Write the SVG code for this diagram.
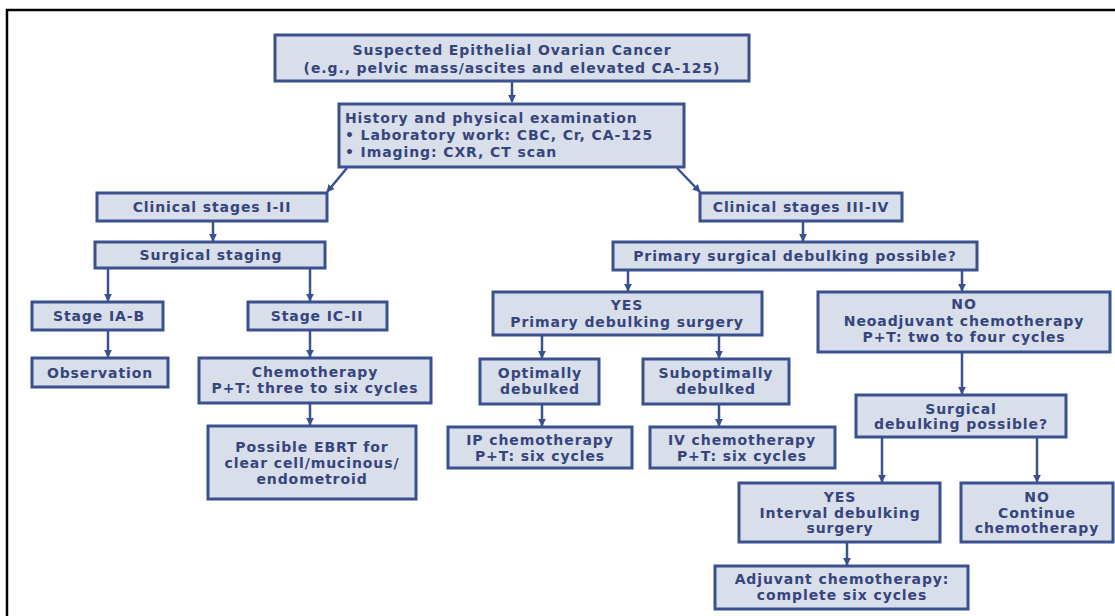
<svg xmlns="http://www.w3.org/2000/svg" width="1115" height="616" viewBox="0 0 1115 616">
<style>
.bx{fill:#d8deea;stroke:#3a5190;stroke-width:3}
.t{font-family:"DejaVu Sans","Liberation Sans",Arial,sans-serif;font-weight:bold;font-size:14px;letter-spacing:0.9px;fill:#36457c;text-anchor:middle}
.tl{text-anchor:start}
.c{stroke:#3a5190;stroke-width:2.5;fill:none;marker-end:url(#ah)}
</style>
<defs>
<marker id="ah" viewBox="0 0 10 10" refX="9" refY="5" markerWidth="3.2" markerHeight="3.2" orient="auto" markerUnits="strokeWidth">
<path d="M0,0 L10,5 L0,10 z" fill="#3a5190"/>
</marker>
</defs>
<rect width="1115" height="616" fill="#ffffff"/>
<path d="M7,616 V10 H1115" fill="none" stroke="#000" stroke-width="2.5"/>

<g id="connectors">
<line class="c" x1="512" y1="82" x2="512" y2="102"/>
<line class="c" x1="347" y1="168" x2="327" y2="192"/>
<line class="c" x1="677" y1="168" x2="700" y2="192"/>
<line class="c" x1="213" y1="222" x2="213" y2="241"/>
<line class="c" x1="803" y1="222" x2="803" y2="241"/>
<line class="c" x1="108" y1="269" x2="108" y2="301"/>
<line class="c" x1="310" y1="269" x2="310" y2="301"/>
<line class="c" x1="628" y1="271" x2="628" y2="291"/>
<line class="c" x1="962" y1="271" x2="962" y2="291"/>
<line class="c" x1="108" y1="331" x2="108" y2="357"/>
<line class="c" x1="310" y1="331" x2="310" y2="357"/>
<line class="c" x1="310" y1="404" x2="310" y2="425"/>
<line class="c" x1="542" y1="336" x2="542" y2="358"/>
<line class="c" x1="719" y1="336" x2="719" y2="358"/>
<line class="c" x1="542" y1="405" x2="542" y2="426"/>
<line class="c" x1="719" y1="405" x2="719" y2="426"/>
<line class="c" x1="962" y1="353" x2="962" y2="394"/>
<line class="c" x1="882" y1="438" x2="882" y2="482"/>
<line class="c" x1="1037" y1="438" x2="1037" y2="482"/>
<line class="c" x1="847" y1="543" x2="847" y2="565"/>
</g>

<g id="n1"><rect class="bx" x="275" y="35" width="474" height="46"/>
<text class="t" x="512" y="55">Suspected Epithelial Ovarian Cancer</text>
<text class="t" x="512" y="73">(e.g., pelvic mass/ascites and elevated CA-125)</text></g>

<g id="n2"><rect class="bx" x="339" y="104" width="345" height="63"/>
<text class="t tl" x="345" y="123">History and physical examination</text>
<text class="t tl" x="345" y="140">• Laboratory work: CBC, Cr, CA-125</text>
<text class="t tl" x="345" y="157">• Imaging: CXR, CT scan</text></g>

<g id="n3"><rect class="bx" x="97" y="193" width="230" height="28"/>
<text class="t" x="212" y="212">Clinical stages I-II</text></g>

<g id="n4"><rect class="bx" x="700" y="193" width="202" height="28"/>
<text class="t" x="801" y="212">Clinical stages III-IV</text></g>

<g id="n5"><rect class="bx" x="95" y="242" width="230" height="26"/>
<text class="t" x="211" y="260">Surgical staging</text></g>

<g id="n6"><rect class="bx" x="613" y="242" width="364" height="28"/>
<text class="t" x="795" y="261">Primary surgical debulking possible?</text></g>

<g id="n7"><rect class="bx" x="32" y="302" width="131" height="28"/>
<text class="t" x="99" y="321">Stage IA-B</text></g>

<g id="n8"><rect class="bx" x="248" y="302" width="139" height="28"/>
<text class="t" x="317" y="321">Stage IC-II</text></g>

<g id="n9"><rect class="bx" x="493" y="292" width="269" height="43"/>
<text class="t" x="627" y="310">YES</text>
<text class="t" x="627" y="327">Primary debulking surgery</text></g>

<g id="n10"><rect class="bx" x="818" y="292" width="292" height="60"/>
<text class="t" x="964" y="309">NO</text>
<text class="t" x="964" y="326">Neoadjuvant chemotherapy</text>
<text class="t" x="964" y="342">P+T: two to four cycles</text></g>

<g id="n11"><rect class="bx" x="32" y="358" width="136" height="29"/>
<text class="t" x="100" y="378">Observation</text></g>

<g id="n12"><rect class="bx" x="199" y="358" width="232" height="45"/>
<text class="t" x="315" y="377">Chemotherapy</text>
<text class="t" x="315" y="393">P+T: three to six cycles</text></g>

<g id="n13"><rect class="bx" x="480" y="359" width="119" height="45"/>
<text class="t" x="540" y="378">Optimally</text>
<text class="t" x="540" y="394">debulked</text></g>

<g id="n14"><rect class="bx" x="643" y="359" width="146" height="45"/>
<text class="t" x="716" y="378">Suboptimally</text>
<text class="t" x="716" y="394">debulked</text></g>

<g id="n15"><rect class="bx" x="208" y="426" width="208" height="73"/>
<text class="t" x="312" y="452">Possible EBRT for</text>
<text class="t" x="312" y="468">clear cell/mucinous/</text>
<text class="t" x="312" y="484">endometroid</text></g>

<g id="n16"><rect class="bx" x="448" y="427" width="184" height="41"/>
<text class="t" x="540" y="445">IP chemotherapy</text>
<text class="t" x="540" y="461">P+T: six cycles</text></g>

<g id="n17"><rect class="bx" x="650" y="427" width="185" height="41"/>
<text class="t" x="742" y="445">IV chemotherapy</text>
<text class="t" x="742" y="461">P+T: six cycles</text></g>

<g id="n18"><rect class="bx" x="856" y="395" width="210" height="42"/>
<text class="t" x="961" y="414">Surgical</text>
<text class="t" x="961" y="429">debulking possible?</text></g>

<g id="n19"><rect class="bx" x="739" y="483" width="201" height="59"/>
<text class="t" x="840" y="502">YES</text>
<text class="t" x="840" y="518">Interval debulking</text>
<text class="t" x="840" y="533">surgery</text></g>

<g id="n20"><rect class="bx" x="961" y="483" width="152" height="59"/>
<text class="t" x="1037" y="502">NO</text>
<text class="t" x="1037" y="518">Continue</text>
<text class="t" x="1037" y="533">chemotherapy</text></g>

<g id="n21"><rect class="bx" x="715" y="566" width="253" height="43"/>
<text class="t" x="842" y="584">Adjuvant chemotherapy:</text>
<text class="t" x="842" y="600">complete six cycles</text></g>
</svg>
